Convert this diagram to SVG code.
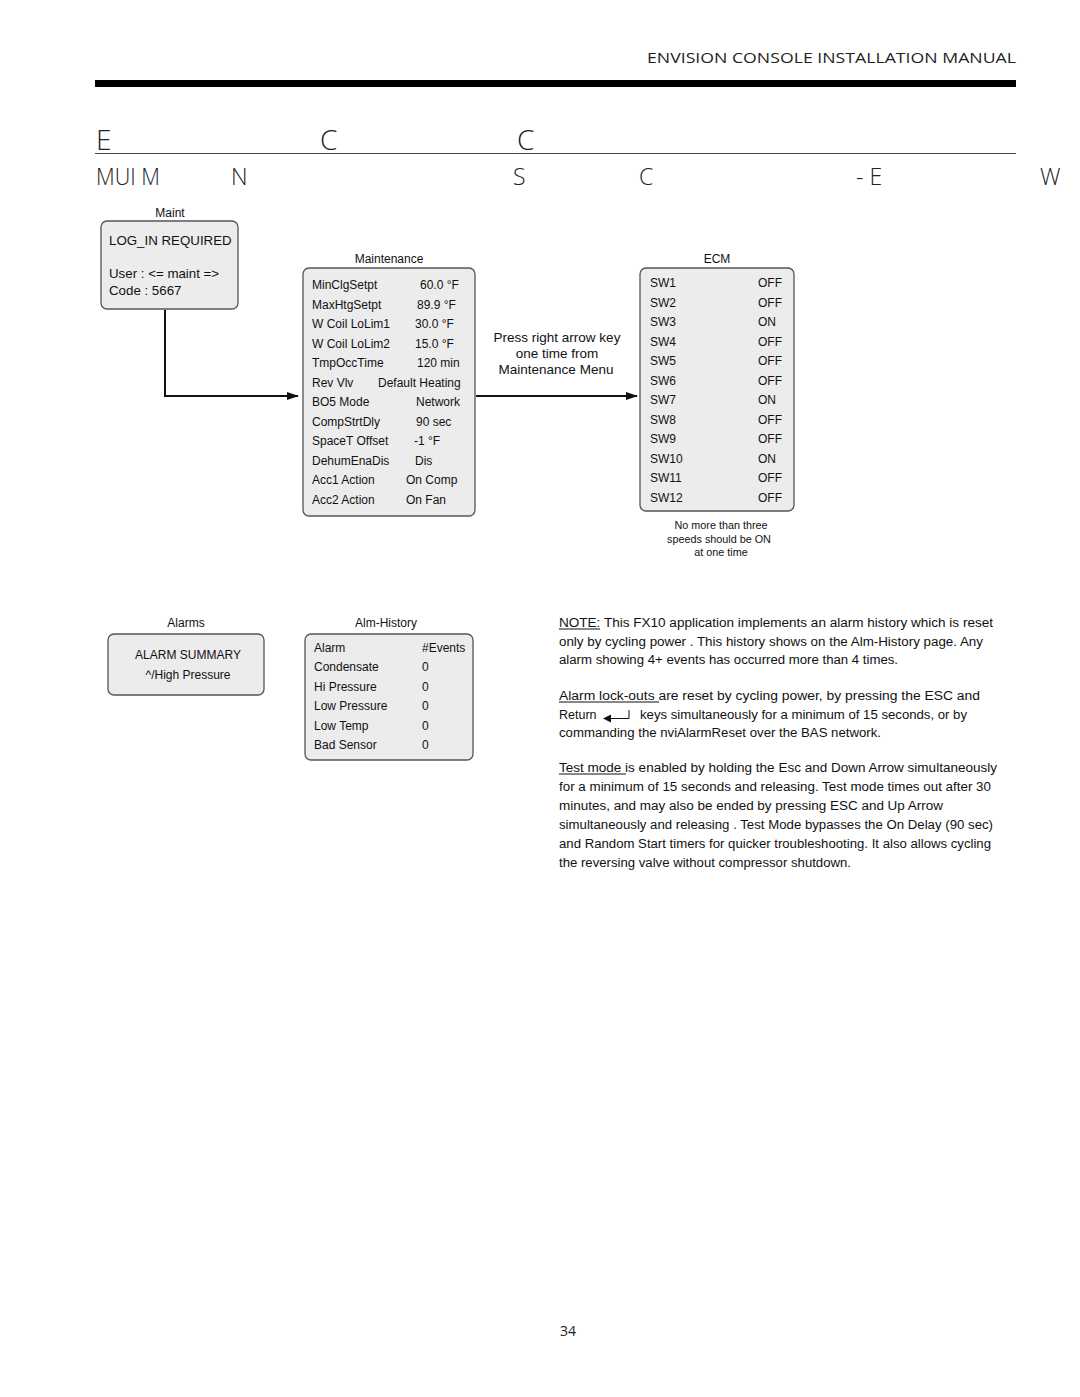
<svg xmlns="http://www.w3.org/2000/svg" width="1080" height="1397" viewBox="0 0 1080 1397">
<style>
.t{font-family:"Liberation Sans",Arial,sans-serif;fill:#111}
.s12{font-size:12px}
.s13{font-size:13.3px}
.s10{font-size:10.8px}
.lbl{font-size:12px;text-anchor:middle}
.box{fill:#ececec;stroke:#555;stroke-width:1.3}
.hd{font-family:"Open Sans","Liberation Sans",sans-serif;fill:#222;font-weight:300}
.conn{stroke:#111;stroke-width:2;fill:none}
.ul{stroke:#111;stroke-width:1}
</style>
<defs>
<marker id="ah" markerWidth="12" markerHeight="8" refX="11" refY="4" orient="auto" markerUnits="userSpaceOnUse">
<path d="M0,0 L12,4 L0,8 Z" fill="#111"/>
</marker>
</defs>
<rect width="1080" height="1397" fill="#fff"/>

<g id="header">
<text class="hd" x="1016" y="63" font-size="14" text-anchor="end" textLength="369" lengthAdjust="spacingAndGlyphs" style="font-weight:400">ENVISION CONSOLE INSTALLATION MANUAL</text>
<rect x="95" y="80" width="921" height="7" fill="#000"/>
<text class="hd" x="96" y="150" font-size="28">E</text>
<text class="hd" x="320" y="150" font-size="28">C</text>
<text class="hd" x="517" y="150" font-size="28">C</text>
<line x1="95" y1="153.5" x2="1016" y2="153.5" stroke="#444" stroke-width="1"/>
<text class="hd" x="96" y="185" font-size="23" textLength="64" lengthAdjust="spacingAndGlyphs">MUI M</text>
<text class="hd" x="231" y="185" font-size="23">N</text>
<text class="hd" x="513" y="185" font-size="23">S</text>
<text class="hd" x="639" y="185" font-size="23">C</text>
<text class="hd" x="856" y="185" font-size="23">- E</text>
<text class="hd" x="1040" y="185" font-size="23">W</text>
</g>

<g id="connectors">
<polyline class="conn" points="165,310 165,396 298,396" marker-end="url(#ah)"/>
<line class="conn" x1="476" y1="396" x2="637" y2="396" marker-end="url(#ah)"/>
<text class="t" x="557" y="342" text-anchor="middle" font-size="13.5">Press right arrow key</text>
<text class="t" x="557" y="358" text-anchor="middle" font-size="13.5">one time from</text>
<text class="t" x="556" y="374" text-anchor="middle" font-size="13.5">Maintenance Menu</text>
</g>

<g id="maint">
<text class="t lbl" x="170" y="217" font-size="11.5">Maint</text>
<rect class="box" x="101" y="221" width="137" height="88" rx="6"/>
<text class="t s13" x="109" y="245">LOG_IN REQUIRED</text>
<text class="t s13" x="109" y="278">User : &lt;= maint =&gt;</text>
<text class="t s13" x="109" y="295">Code : 5667</text>
</g>

<g id="maintenance">
<text class="t lbl" x="389" y="263" font-size="11.5">Maintenance</text>
<rect class="box" x="303" y="268" width="172" height="248" rx="6"/>
<g class="t s12">
<text x="312" y="289">MinClgSetpt</text><text x="420" y="289">60.0 °F</text>
<text x="312" y="308.5">MaxHtgSetpt</text><text x="417" y="308.5">89.9 °F</text>
<text x="312" y="328">W Coil LoLim1</text><text x="415" y="328">30.0 °F</text>
<text x="312" y="347.5">W Coil LoLim2</text><text x="415" y="347.5">15.0 °F</text>
<text x="312" y="367">TmpOccTime</text><text x="417" y="367">120 min</text>
<text x="312" y="386.5">Rev Vlv</text><text x="378" y="386.5">Default Heating</text>
<text x="312" y="406">BO5 Mode</text><text x="416" y="406">Network</text>
<text x="312" y="425.5">CompStrtDly</text><text x="416" y="425.5">90 sec</text>
<text x="312" y="445">SpaceT Offset</text><text x="414" y="445">-1 °F</text>
<text x="312" y="464.5">DehumEnaDis</text><text x="415" y="464.5">Dis</text>
<text x="312" y="484">Acc1 Action</text><text x="406" y="484">On Comp</text>
<text x="312" y="503.5">Acc2 Action</text><text x="406" y="503.5">On Fan</text>
</g>
</g>

<g id="ecm">
<text class="t lbl" x="717" y="263" font-size="11.5">ECM</text>
<rect class="box" x="640" y="268" width="154" height="243" rx="6"/>
<g class="t s12">
<text x="650" y="287">SW1</text><text x="758" y="287">OFF</text>
<text x="650" y="306.5">SW2</text><text x="758" y="306.5">OFF</text>
<text x="650" y="326">SW3</text><text x="758" y="326">ON</text>
<text x="650" y="345.5">SW4</text><text x="758" y="345.5">OFF</text>
<text x="650" y="365">SW5</text><text x="758" y="365">OFF</text>
<text x="650" y="384.5">SW6</text><text x="758" y="384.5">OFF</text>
<text x="650" y="404">SW7</text><text x="758" y="404">ON</text>
<text x="650" y="423.5">SW8</text><text x="758" y="423.5">OFF</text>
<text x="650" y="443">SW9</text><text x="758" y="443">OFF</text>
<text x="650" y="462.5">SW10</text><text x="758" y="462.5">ON</text>
<text x="650" y="482">SW11</text><text x="758" y="482">OFF</text>
<text x="650" y="501.5">SW12</text><text x="758" y="501.5">OFF</text>
</g>
<g class="t s10" text-anchor="middle">
<text x="721" y="529">No more than three</text>
<text x="719" y="543">speeds should be  ON</text>
<text x="721" y="556">at one time</text>
</g>
</g>

<g id="alarms">
<text class="t lbl" x="186" y="627" font-size="11.5">Alarms</text>
<rect class="box" x="108" y="634" width="156" height="61" rx="6"/>
<text class="t s12" x="188" y="659" text-anchor="middle">ALARM SUMMARY</text>
<text class="t s12" x="188" y="679" text-anchor="middle">^/High Pressure</text>
</g>

<g id="alm-history">
<text class="t lbl" x="386" y="627" font-size="11.5">Alm-History</text>
<rect class="box" x="305" y="634" width="168" height="126" rx="6"/>
<g class="t s12">
<text x="314" y="651.5">Alarm</text><text x="422" y="651.5">#Events</text>
<text x="314" y="671">Condensate</text><text x="422" y="671">0</text>
<text x="314" y="690.5">Hi Pressure</text><text x="422" y="690.5">0</text>
<text x="314" y="710">Low Pressure</text><text x="422" y="710">0</text>
<text x="314" y="729.5">Low Temp</text><text x="422" y="729.5">0</text>
<text x="314" y="749">Bad Sensor</text><text x="422" y="749">0</text>
</g>
</g>

<g id="notes" class="t" font-size="12.5">
<text x="559" y="627" textLength="434" lengthAdjust="spacingAndGlyphs">NOTE:  This FX10 application implements an alarm history which is reset</text>
<line class="ul" x1="559" y1="629" x2="600" y2="629"/>
<text x="559" y="646" textLength="424" lengthAdjust="spacingAndGlyphs">only by cycling power .  This history shows on the Alm-History page.  Any</text>
<text x="559" y="664" textLength="339" lengthAdjust="spacingAndGlyphs">alarm showing 4+ events has occurred more than 4 times.</text>

<text x="559" y="700" textLength="421" lengthAdjust="spacingAndGlyphs">Alarm lock-outs are reset by cycling power, by pressing the  ESC  and</text>
<line class="ul" x1="559" y1="702" x2="659" y2="702"/>
<text x="559" y="719">Return</text>
<path d="M603,718.5 L611,714.5 L611,722.5 Z" fill="#111"/>
<polyline points="609,718.5 629,718.5 629,710" fill="none" stroke="#111" stroke-width="1"/>
<text x="640" y="719" textLength="327" lengthAdjust="spacingAndGlyphs">keys simultaneously for a minimum of 15 seconds, or by</text>
<text x="559" y="737" textLength="322" lengthAdjust="spacingAndGlyphs">commanding the nviAlarmReset over the BAS network.</text>

<text x="559" y="772" textLength="438" lengthAdjust="spacingAndGlyphs">Test mode is enabled by holding the  Esc  and Down Arrow simultaneously</text>
<line class="ul" x1="559" y1="774" x2="626" y2="774"/>
<text x="559" y="791" textLength="432" lengthAdjust="spacingAndGlyphs">for a minimum of 15 seconds and releasing.  Test mode times out after 30</text>
<text x="559" y="810" textLength="384" lengthAdjust="spacingAndGlyphs">minutes, and may also be ended by pressing  ESC  and Up Arrow</text>
<text x="559" y="829" textLength="434" lengthAdjust="spacingAndGlyphs">simultaneously and releasing .  Test Mode bypasses the On Delay (90 sec)</text>
<text x="559" y="848" textLength="432" lengthAdjust="spacingAndGlyphs">and Random Start timers for quicker troubleshooting.  It also allows cycling</text>
<text x="559" y="867" textLength="292" lengthAdjust="spacingAndGlyphs">the reversing valve without compressor shutdown.</text>
</g>

<text class="hd" x="568" y="1336" font-size="14" text-anchor="middle" style="font-weight:400">34</text>
</svg>
